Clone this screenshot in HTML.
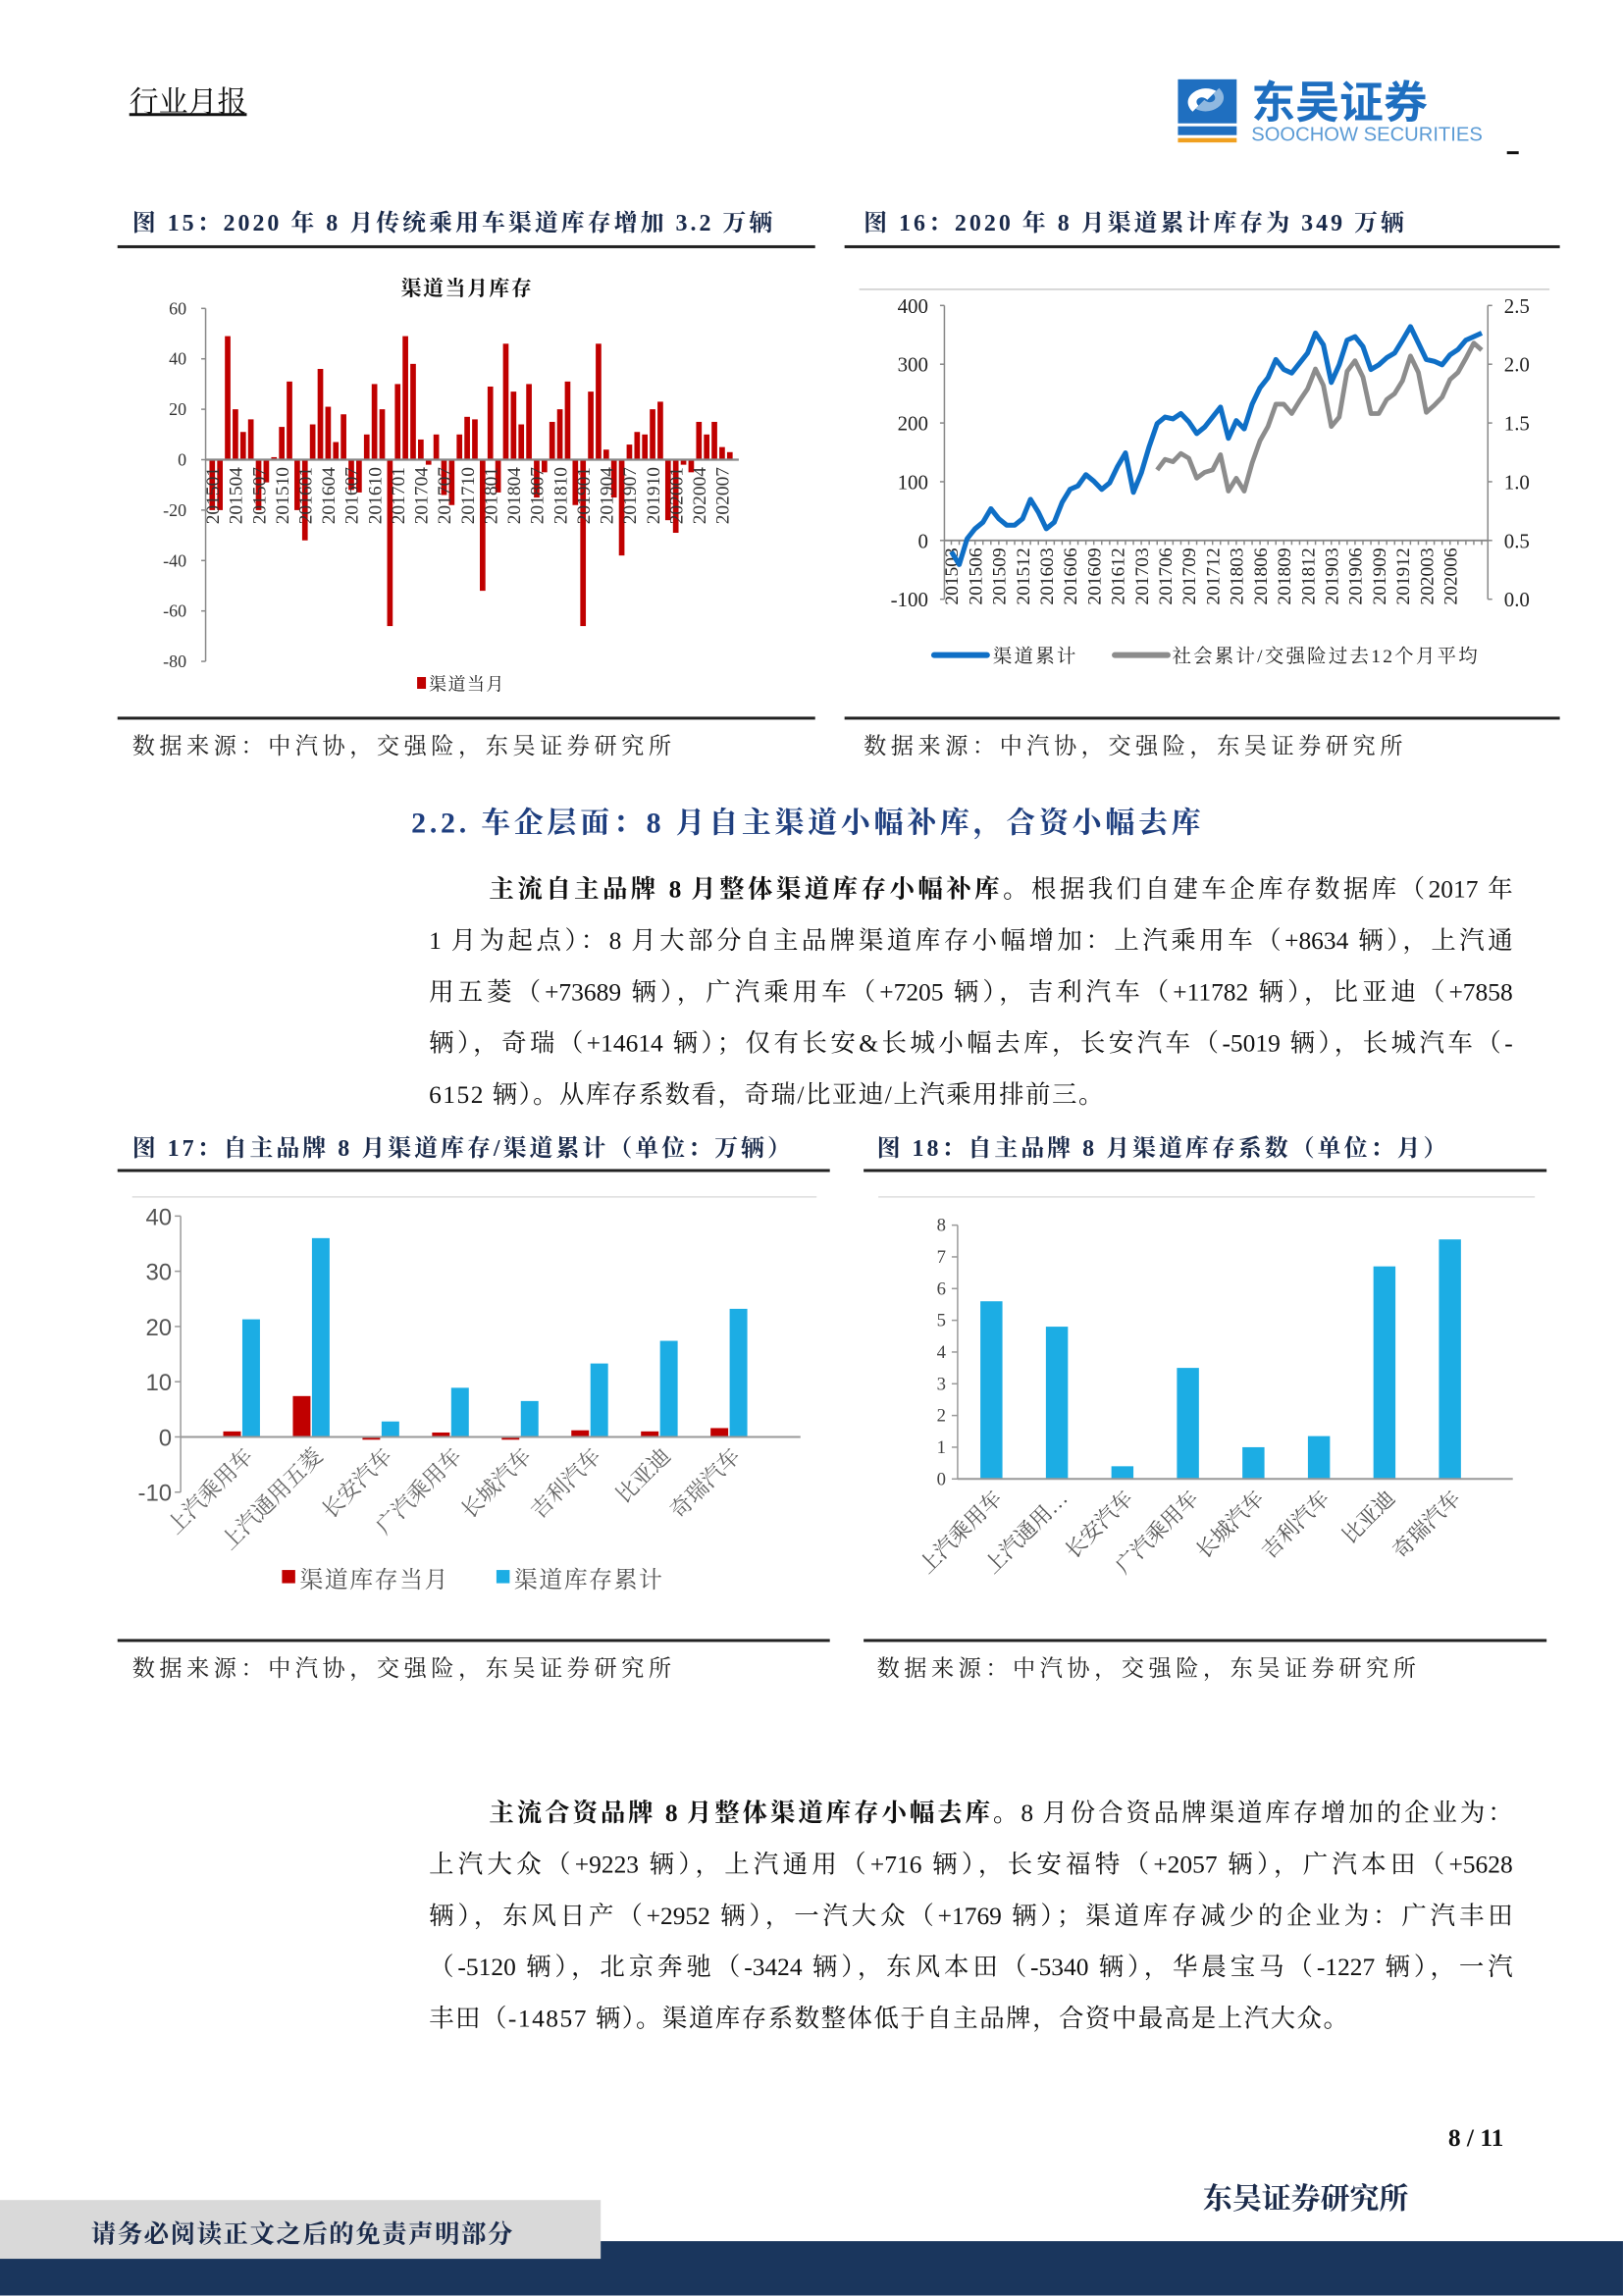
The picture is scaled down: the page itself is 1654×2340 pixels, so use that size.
<!DOCTYPE html>
<html><head><meta charset="utf-8">
<style>
html,body{margin:0;padding:0;background:#fff;}
body{width:1654px;height:2339px;overflow:hidden;position:relative;}
#page{position:absolute;left:0;top:0;width:1105px;height:1563px;transform:scale(1.4968);transform-origin:0 0;font-family:"Liberation Serif","Noto Serif CJK SC",serif;color:#111;}
.abs{position:absolute;white-space:nowrap;}
.ft{font-weight:bold;font-size:16px;color:#1a2a4a;letter-spacing:2px;}
.rule{position:absolute;height:2px;background:#222;}
.src{font-size:15.5px;color:#222;letter-spacing:3px;}
.ln{position:absolute;font-size:17px;height:35px;line-height:35px;white-space:nowrap;text-align:justify;text-align-last:justify;color:#111;}
.ln.last{text-align-last:left;}
svg text{font-family:"Liberation Serif","Noto Serif CJK SC",serif;}
</style></head>
<body>
<div id="page">
  <div class="abs" style="left:88px;top:53px;font-size:20px;text-decoration:underline;">行业月报</div>
  <div class="abs" style="left:800px;top:52px;width:220px;height:48px;">
    <svg width="220" height="48">
      <rect x="2" y="2" width="40" height="30" fill="#1f6fc0"/>
      <path d="M12 24 C2 14 18 4 28 10 L22 16 C18 12 12 16 16 20 Z" fill="#fff"/>
      <path d="M30 8 C40 18 24 28 14 22 L20 16 C24 20 30 16 26 12 Z" fill="#8fb8e0"/>
      <rect x="2" y="34" width="40" height="6" fill="#1f6fc0"/>
      <rect x="2" y="42" width="40" height="3" fill="#f0a020"/>
      <text x="52" y="28" font-size="30" font-weight="bold" fill="#1f6fc0" style="font-family:'Noto Sans CJK SC',sans-serif">东吴证券</text>
      <text x="52" y="44" font-size="13.5" fill="#5b9bd5" style="font-family:'Liberation Sans',sans-serif">SOOCHOW SECURITIES</text>
    </svg>
  </div>
  <div class="abs" style="left:1026px;top:103px;width:8px;height:2px;background:#111;"></div>

  <div class="abs ft" style="left:90px;top:139px;">图 15：2020 年 8 月传统乘用车渠道库存增加 3.2 万辆</div>
  <div class="rule" style="left:80px;top:167px;width:475px;"></div>
  <div class="abs ft" style="left:588px;top:139px;">图 16：2020 年 8 月渠道累计库存为 349 万辆</div>
  <div class="rule" style="left:575px;top:167px;width:487px;"></div>

  <svg class="abs" style="left:0;top:0" width="1105" height="1563" id="charts"></svg>

  <div class="rule" style="left:80px;top:488px;width:475px;"></div>
  <div class="rule" style="left:575px;top:488px;width:487px;"></div>
  <div class="abs src" style="left:90px;top:496px;">数据来源：中汽协，交强险，东吴证券研究所</div>
  <div class="abs src" style="left:588px;top:496px;">数据来源：中汽协，交强险，东吴证券研究所</div>

  <div class="abs" style="left:280px;top:544px;font-size:20px;font-weight:bold;color:#1f3f7f;letter-spacing:2.5px;">2.2. 车企层面：8 月自主渠道小幅补库，合资小幅去库</div>

  <div>
    <div class="ln" style="left:333px;top:588px;width:697px;"><b>主流自主品牌 8 月整体渠道库存小幅补库。</b>根据我们自建车企库存数据库（2017 年</div>
    <div class="ln" style="left:292px;top:623px;width:738px;">1 月为起点）：8 月大部分自主品牌渠道库存小幅增加：上汽乘用车（+8634 辆），上汽通</div>
    <div class="ln" style="left:292px;top:658px;width:738px;">用五菱（+73689 辆），广汽乘用车（+7205 辆），吉利汽车（+11782 辆），比亚迪（+7858</div>
    <div class="ln" style="left:292px;top:693px;width:738px;">辆），奇瑞（+14614 辆）；仅有长安&amp;长城小幅去库，长安汽车（-5019 辆），长城汽车（-</div>
    <div class="ln last" style="left:292px;top:728px;width:738px;letter-spacing:1px;">6152 辆）。从库存系数看，奇瑞/比亚迪/上汽乘用排前三。</div>
  </div>

  <div class="abs ft" style="left:90px;top:769px;">图 17：自主品牌 8 月渠道库存/渠道累计（单位：万辆）</div>
  <div class="rule" style="left:80px;top:796px;width:485px;"></div>
  <div class="abs ft" style="left:597px;top:769px;">图 18：自主品牌 8 月渠道库存系数（单位：月）</div>
  <div class="rule" style="left:588px;top:796px;width:465px;"></div>
  <div class="rule" style="left:80px;top:1116px;width:485px;"></div>
  <div class="rule" style="left:588px;top:1116px;width:465px;"></div>
  <div class="abs src" style="left:90px;top:1124px;">数据来源：中汽协，交强险，东吴证券研究所</div>
  <div class="abs src" style="left:597px;top:1124px;">数据来源：中汽协，交强险，东吴证券研究所</div>

  <div>
    <div class="ln" style="left:333px;top:1217px;width:697px;"><b>主流合资品牌 8 月整体渠道库存小幅去库。</b>8 月份合资品牌渠道库存增加的企业为：</div>
    <div class="ln" style="left:292px;top:1252px;width:738px;">上汽大众（+9223 辆），上汽通用（+716 辆），长安福特（+2057 辆），广汽本田（+5628</div>
    <div class="ln" style="left:292px;top:1287px;width:738px;">辆），东风日产（+2952 辆），一汽大众（+1769 辆）；渠道库存减少的企业为：广汽丰田</div>
    <div class="ln" style="left:292px;top:1322px;width:738px;">（-5120 辆），北京奔驰（-3424 辆），东风本田（-5340 辆），华晨宝马（-1227 辆），一汽</div>
    <div class="ln last" style="left:292px;top:1357px;width:738px;letter-spacing:1px;">丰田（-14857 辆）。渠道库存系数整体低于自主品牌，合资中最高是上汽大众。</div>
  </div>

  <div class="abs" style="left:986px;top:1446px;font-size:17px;font-weight:bold;">8 / 11</div>
  <div class="abs" style="left:819px;top:1481px;font-size:20px;font-weight:bold;color:#1a2a4a;">东吴证券研究所</div>
  <div class="abs" style="left:0;top:1526px;width:1105px;height:37px;background:#1a365d;"></div>
  <div class="abs" style="left:0;top:1498px;width:409px;height:40px;background:#d9d9d9;"></div>
  <div class="abs" style="left:62px;top:1507px;font-size:17px;font-weight:bold;color:#1a2a4a;letter-spacing:1px;">请务必阅读正文之后的免责声明部分</div>
</div>

<script>
// ===== Figure 15 data =====
const f15Labels = ["201501","201504","201507","201510","201601","201604","201607","201610","201701","201704","201707","201710","201801","201804","201807","201810","201901","201904","201907","201910","202001","202004","202007"];
const f15Values = [-20,-20,49,20,11,16,-20,-9,1,13,31,-20,-32,14,36,21,7,18,-12,-13,10,30,20,-66,30,49,38,8,-2,10,-14,-18,10,17,16,-52,29,-13,46,27,14,30,-15,-5,15,20,31,-18,-66,27,46,4,-15,-38,6,11,10,20,23,-24,-29,-2,-5,15,10,15,5,3];
const f15Ticks = [60,40,20,0,-20,-40,-60,-80];
// ===== Figure 16 data =====
const f16Cats = ["201503","201504","201505","201506","201507","201508","201509","201510","201511","201512","201601","201602","201603","201604","201605","201606","201607","201608","201609","201610","201611","201612","201701","201702","201703","201704","201705","201706","201707","201708","201709","201710","201711","201712","201801","201802","201803","201804","201805","201806","201807","201808","201809","201810","201811","201812","201901","201902","201903","201904","201905","201906","201907","201908","201909","201910","201911","201912","202001","202002","202003","202004","202005","202006","202007","202008","202009","202010"];
const f16Channel = [-19,-41,3,20,31,54,37,26,26,37,70,48,20,31,65,87,93,112,101,87,98,126,149,82,115,160,199,210,207,216,202,182,193,210,227,174,204,190,232,260,277,308,291,285,302,319,353,333,269,299,341,347,330,291,299,311,319,341,364,336,308,305,299,316,325,341,347,353];
const f16Ratio = [null,null,null,null,null,null,null,null,null,null,null,null,null,null,null,null,null,null,null,null,null,null,null,null,null,null,1.10,1.19,1.17,1.24,1.20,1.03,1.08,1.10,1.23,0.92,1.03,0.92,1.16,1.35,1.47,1.66,1.66,1.58,1.69,1.79,1.96,1.82,1.47,1.55,1.94,2.03,1.89,1.58,1.58,1.70,1.75,1.86,2.07,1.93,1.59,1.65,1.72,1.87,1.93,2.05,2.18,2.12];
const f16LeftTicks = [400,300,200,100,0,-100];
const f16RightTicks = ["2.5","2.0","1.5","1.0","0.5","0.0"];
// ===== Figure 17 data =====
const f17Cats = ["上汽乘用车","上汽通用五菱","长安汽车","广汽乘用车","长城汽车","吉利汽车","比亚迪","奇瑞汽车"];
const f17Month = [1.0,7.4,-0.5,0.8,-0.5,1.2,1.0,1.6];
const f17Cum = [21.3,36.0,2.8,8.9,6.5,13.3,17.4,23.2];
const f17Ticks = [40,30,20,10,0,-10];
// ===== Figure 18 data =====
const f18Cats = ["上汽乘用车","上汽通用…","长安汽车","广汽乘用车","长城汽车","吉利汽车","比亚迪","奇瑞汽车"];
const f18Values = [5.6,4.8,0.4,3.5,1.0,1.35,6.7,7.55];
const f18Ticks = [8,7,6,5,4,3,2,1,0];

const svg = document.getElementById('charts');
const NS = 'http://www.w3.org/2000/svg';
function mk(tag, attrs, parent){const e=document.createElementNS(NS,tag);for(const k in attrs)e.setAttribute(k,attrs[k]);(parent||svg).appendChild(e);return e;}
function grp(name){const g=mk('g',{});


return g;}

// ---------- Figure 15 ----------
(function(){
  const g = grp('figure-15-chart');
  const y = v => 313 - v*(103/60);
  const x = i => 144.5 + i*5.26;
  const t = mk('text',{x:318,y:201,'font-size':14,'font-weight':'bold','text-anchor':'middle',fill:'#111','letter-spacing':1},g);
  t.textContent='渠道当月库存';
  
  
  mk('line',{x1:140,y1:y(60),x2:140,y2:y(-80),stroke:'#888','stroke-width':1},g);
  f15Ticks.forEach(v=>{
    mk('line',{x1:137,y1:y(v),x2:140,y2:y(v),stroke:'#888'},g);
    const tt=mk('text',{x:127,y:y(v)+4,'font-size':12,'text-anchor':'end',fill:'#333'},g);
    tt.textContent=v;
    
    
  });
  f15Values.forEach((v,i)=>{
    const r=mk('rect',{x:x(i)-1.9,y:Math.min(y(v),y(0)),width:3.8,height:Math.abs(y(v)-y(0)),fill:'#c00000'},g);
    
    
  });
  mk('line',{x1:140,y1:y(0),x2:503,y2:y(0),stroke:'#888','stroke-width':1.5},g);
  f15Labels.forEach((l,k)=>{
    const tx=x(k*3)+4.5;
    const tt=mk('text',{x:0,y:0,'font-size':13,'text-anchor':'end',fill:'#333',transform:`translate(${tx},318) rotate(-90)`},g);
    tt.textContent=l;
    
    
  });
  mk('rect',{x:284,y:461,width:6,height:8,fill:'#c00000'},g);
  const lt=mk('text',{x:292,y:470,'font-size':12,fill:'#222','letter-spacing':1},g);
  lt.textContent='渠道当月';
  
  
})();

// ---------- Figure 16 ----------
(function(){
  const g = grp('figure-16-chart');
  mk('line',{x1:585,y1:197,x2:1055,y2:197,stroke:'#ccc'},g);
  const yl = v => 368 - v*0.4;
  const yr = v => 408 - v*80;
  const x = i => 647.7 + i*5.39;
  mk('line',{x1:643,y1:208,x2:643,y2:408,stroke:'#888'},g);
  mk('line',{x1:1013,y1:208,x2:1013,y2:408,stroke:'#888'},g);
  f16LeftTicks.forEach(v=>{
    mk('line',{x1:640,y1:yl(v),x2:643,y2:yl(v),stroke:'#888'},g);
    const t=mk('text',{x:632,y:yl(v)+5,'font-size':14,'text-anchor':'end',fill:'#222'},g);
    t.textContent=v;
    
    
  });
  f16RightTicks.forEach(s=>{
    const v=parseFloat(s);
    mk('line',{x1:1013,y1:yr(v),x2:1016,y2:yr(v),stroke:'#888'},g);
    const t=mk('text',{x:1024,y:yr(v)+5,'font-size':14,fill:'#222'},g);
    t.textContent=s;
    
    
  });
  mk('line',{x1:643,y1:yl(0),x2:1013,y2:yl(0),stroke:'#888','stroke-width':1.3},g);
  f16Cats.forEach((c,i)=>{
    mk('line',{x1:x(i),y1:yl(0),x2:x(i),y2:yl(0)+3,stroke:'#888'},g);
    if(i%3===0 && i<=63){
      const t=mk('text',{x:0,y:0,'font-size':13,'text-anchor':'end',fill:'#222',transform:`translate(${x(i)+4.5},${yl(0)+5}) rotate(-90)`},g);
      t.textContent=c;
      
      
    }
  });
  const gp=f16Ratio.map((v,i)=>v==null?null:[x(i),yr(v)]).filter(p=>p);
  const pg=mk('polyline',{points:gp.map(p=>p.join(',')).join(' '),fill:'none',stroke:'#8c8c8c','stroke-width':3.2,'stroke-linejoin':'round'},g);
  
  
  const pb=mk('polyline',{points:f16Channel.map((v,i)=>x(i)+','+yl(v)).join(' '),fill:'none',stroke:'#0f6fc6','stroke-width':3.4,'stroke-linejoin':'round'},g);
  
  
  mk('line',{x1:636,y1:446,x2:672,y2:446,stroke:'#0f6fc6','stroke-width':4,'stroke-linecap':'round'},g);
  const l1=mk('text',{x:676,y:451,'font-size':13,fill:'#222','letter-spacing':1.5},g);
  l1.textContent='渠道累计';
  
  
  mk('line',{x1:759,y1:446,x2:795,y2:446,stroke:'#8c8c8c','stroke-width':4,'stroke-linecap':'round'},g);
  const l2=mk('text',{x:798,y:451,'font-size':13,fill:'#222','letter-spacing':1.5},g);
  l2.textContent='社会累计/交强险过去12个月平均';
  
  
})();

// ---------- Figure 17 ----------
(function(){
  const g = grp('figure-17-chart');
  mk('line',{x1:90,y1:815,x2:556,y2:815,stroke:'#ddd'},g);
  const y = v => 978.4 - v*3.76;
  const cx = i => 165 + i*47.4;
  mk('line',{x1:123,y1:y(40),x2:123,y2:y(-10),stroke:'#999'},g);
  f17Ticks.forEach(v=>{
    mk('line',{x1:119,y1:y(v),x2:123,y2:y(v),stroke:'#999'},g);
    const t=mk('text',{x:117,y:y(v)+6,'font-size':16,'text-anchor':'end',fill:'#555',style:'font-family:"Liberation Sans",sans-serif'},g);
    t.textContent=v;
    
    
  });
  f17Cats.forEach((c,i)=>{
    const r1=mk('rect',{x:cx(i)-13,y:Math.min(y(f17Month[i]),y(0)),width:12,height:Math.abs(y(f17Month[i])-y(0)),fill:'#c00000'},g);
    
    
    const r2=mk('rect',{x:cx(i)-6+(-1)+7,y:Math.min(y(f17Cum[i]),y(0)),width:12,height:Math.abs(y(f17Cum[i])-y(0)),fill:'#1cade4'},g);
    
    
    const t=mk('text',{x:0,y:0,'font-size':15,'text-anchor':'end',fill:'#666',transform:`translate(${cx(i)+8},${y(0)+14}) rotate(-45)`},g);
    t.textContent=c;
    
    
  });
  mk('line',{x1:123,y1:y(0),x2:545,y2:y(0),stroke:'#999','stroke-width':1.3},g);
  mk('rect',{x:192,y:1069,width:9,height:9,fill:'#c00000'},g);
  const l1=mk('text',{x:204,y:1081,'font-size':16,fill:'#555','letter-spacing':1},g);
  l1.textContent='渠道库存当月';
  
  
  mk('rect',{x:338,y:1069,width:9,height:9,fill:'#1cade4'},g);
  const l2=mk('text',{x:350,y:1081,'font-size':16,fill:'#555','letter-spacing':1},g);
  l2.textContent='渠道库存累计';
  
  
})();

// ---------- Figure 18 ----------
(function(){
  const g = grp('figure-18-chart');
  mk('line',{x1:598,y1:815,x2:1045,y2:815,stroke:'#ddd'},g);
  const y = v => 1007 - v*21.6;
  const cx = i => 675 + i*44.6;
  mk('line',{x1:652,y1:y(8),x2:652,y2:y(0),stroke:'#999'},g);
  f18Ticks.forEach(v=>{
    mk('line',{x1:648,y1:y(v),x2:652,y2:y(v),stroke:'#999'},g);
    const t=mk('text',{x:644,y:y(v)+4,'font-size':12.5,'text-anchor':'end',fill:'#444'},g);
    t.textContent=v;
    
    
  });
  f18Cats.forEach((c,i)=>{
    const r=mk('rect',{x:cx(i)-7.5,y:y(f18Values[i]),width:15,height:y(0)-y(f18Values[i]),fill:'#1cade4'},g);
    
    
    const t=mk('text',{x:0,y:0,'font-size':14.5,'text-anchor':'end',fill:'#555',transform:`translate(${cx(i)+8},${y(0)+14}) rotate(-45)`},g);
    t.textContent=c;
    
    
  });
  mk('line',{x1:652,y1:y(0),x2:1030,y2:y(0),stroke:'#999','stroke-width':1.3},g);
})();
</script>
</body></html>
